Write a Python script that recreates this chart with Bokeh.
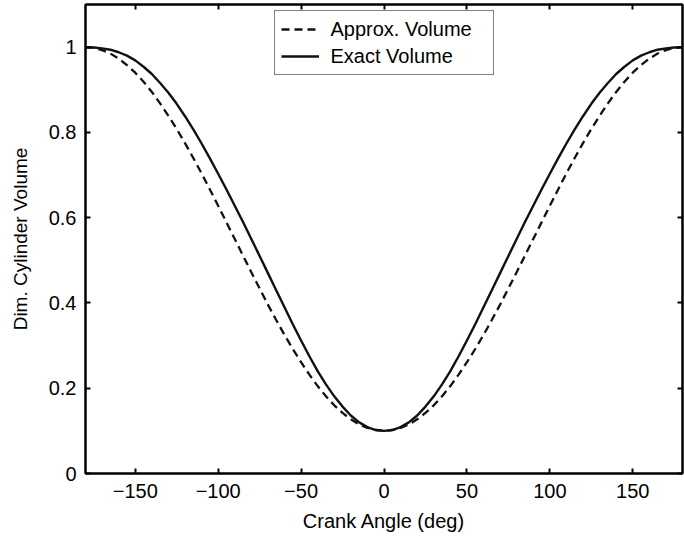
from bokeh.plotting import figure
from bokeh.models import LinearAxis, FixedTicker, Range1d, CustomLabelingPolicy
from bokeh.embed import file_html
from bokeh.resources import INLINE

# ---- data ----
crank_angle = [-180, -175, -170, -165, -160, -155, -150, -145, -140, -135, -130, -125,
               -120, -115, -110, -105, -100, -95, -90, -85, -80, -75, -70, -65,
               -60, -55, -50, -45, -40, -35, -30, -25, -20, -15, -10, -5,
               0, 5, 10, 15, 20, 25, 30, 35, 40, 45, 50, 55,
               60, 65, 70, 75, 80, 85, 90, 95, 100, 105, 110, 115,
               120, 125, 130, 135, 140, 145, 150, 155, 160, 165, 170, 175, 180]

approx_volume = [1.000, 0.998, 0.993, 0.985, 0.973, 0.958, 0.940, 0.919, 0.895, 0.868, 0.839, 0.808,
                 0.775, 0.740, 0.704, 0.666, 0.628, 0.589, 0.550, 0.511, 0.472, 0.434, 0.396, 0.360,
                 0.325, 0.292, 0.261, 0.232, 0.205, 0.181, 0.160, 0.142, 0.127, 0.115, 0.107, 0.102,
                 0.100, 0.102, 0.107, 0.115, 0.127, 0.142, 0.160, 0.181, 0.205, 0.232, 0.261, 0.292,
                 0.325, 0.360, 0.396, 0.434, 0.472, 0.511, 0.550, 0.589, 0.628, 0.666, 0.704, 0.740,
                 0.775, 0.808, 0.839, 0.868, 0.895, 0.919, 0.940, 0.958, 0.973, 0.985, 0.993, 0.998, 1.000]

exact_volume = [1.000, 0.999, 0.997, 0.994, 0.988, 0.980, 0.969, 0.954, 0.937, 0.916, 0.893, 0.867,
                0.838, 0.807, 0.774, 0.739, 0.703, 0.666, 0.628, 0.590, 0.550, 0.510, 0.470, 0.430,
                0.390, 0.350, 0.312, 0.275, 0.240, 0.209, 0.181, 0.157, 0.136, 0.120, 0.109, 0.102,
                0.100, 0.102, 0.109, 0.120, 0.136, 0.157, 0.181, 0.209, 0.240, 0.275, 0.312, 0.350,
                0.390, 0.430, 0.470, 0.510, 0.550, 0.590, 0.628, 0.666, 0.703, 0.739, 0.774, 0.807,
                0.838, 0.867, 0.893, 0.916, 0.937, 0.954, 0.969, 0.980, 0.988, 0.994, 0.997, 0.999, 1.000]

series_labels = ["Approx. Volume", "Exact Volume"]
x_ticks = [-150, -100, -50, 0, 50, 100, 150]
x_tick_labels = ["\u2212150", "\u2212100", "\u221250", "0", "50", "100", "150"]
y_ticks = [0, 0.2, 0.4, 0.6, 0.8, 1.0]
y_tick_labels = ["0", "0.2", "0.4", "0.6", "0.8", "1"]
x_title = "Crank Angle (deg)"
y_title = "Dim. Cylinder Volume"

FONT = "Liberation Sans"
FS = "20px"

p = figure(width=684, height=543, output_backend="svg", toolbar_location=None,
           x_range=Range1d(-180, 180), y_range=Range1d(0, 1.1),
           min_border_left=85, min_border_right=2, min_border_top=4, min_border_bottom=70,
           background_fill_color="white", border_fill_color="white")
p.grid.visible = False
p.outline_line_color = "black"
p.outline_line_width = 2

p.line(crank_angle, approx_volume, line_color="#111111", line_width=2.3,
       line_dash="8 5", legend_label=series_labels[0])
p.line(crank_angle, exact_volume, line_color="#111111", line_width=2.4,
       legend_label=series_labels[1])

def style_axis(ax, ticks, labels, show_labels=True):
    ax.ticker = FixedTicker(ticks=ticks)
    ax.major_tick_in = 5
    ax.major_tick_out = 0
    ax.major_tick_line_width = 2
    ax.major_tick_line_color = "black"
    ax.minor_tick_line_color = None
    ax.axis_line_color = "black"
    ax.axis_line_width = 2
    ax.major_label_text_font = FONT
    ax.major_label_text_color = "black"
    if show_labels:
        ax.major_label_text_font_size = FS
        ax.major_label_overrides = {t: l for t, l in zip(ticks, labels)}
    else:
        ax.major_label_text_font_size = "0px"
        ax.major_label_policy = CustomLabelingPolicy(code="return []")
        ax.major_label_standoff = 0

xa = p.xaxis[0]
ya = p.yaxis[0]
style_axis(xa, x_ticks, x_tick_labels)
style_axis(ya, y_ticks, y_tick_labels)
xa.major_label_standoff = 10
ya.major_label_standoff = 9
xa.axis_label = x_title
ya.axis_label = y_title
for ax in (xa, ya):
    ax.axis_label_text_font = FONT
    ax.axis_label_text_font_style = "normal"
    ax.axis_label_text_color = "black"
xa.axis_label_text_font_size = FS
ya.axis_label_text_font_size = "19px"
xa.axis_label_standoff = 9
ya.axis_label_standoff = 15

top = LinearAxis()
style_axis(top, x_ticks, x_tick_labels, show_labels=False)
p.add_layout(top, "above")
right = LinearAxis()
style_axis(right, y_ticks, y_tick_labels, show_labels=False)
p.add_layout(right, "right")

lg = p.legend[0]
lg.location = "top_center"
lg.margin = 6
lg.padding = 6
lg.spacing = 3
lg.glyph_width = 38
lg.glyph_height = 24
lg.label_height = 24
lg.label_width = 156
lg.label_standoff = 12
lg.label_text_font = FONT
lg.label_text_font_size = FS
lg.label_text_color = "black"
lg.border_line_color = "black"
lg.border_line_width = 1
lg.background_fill_color = "white"
lg.background_fill_alpha = 1.0

open("out.html", "w").write(file_html(p, INLINE))
